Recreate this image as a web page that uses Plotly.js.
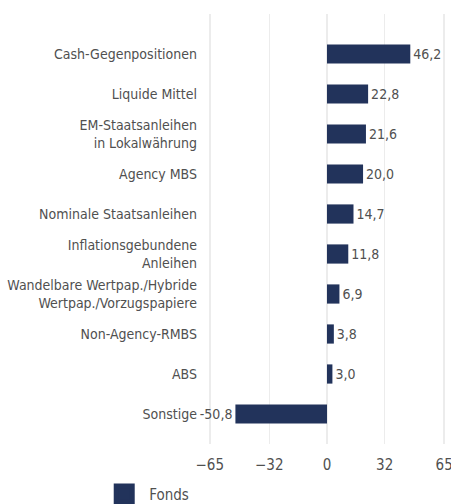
<!DOCTYPE html>
<html>
<head>
<meta charset="utf-8">
<script src="https://cdn.plot.ly/plotly-3.0.1.min.js"></script>
<style>
  html, body { margin: 0; padding: 0; background: #ffffff; }
  #chart { width: 451px; height: 504px; }
</style>
</head>
<body>
<div id="chart"></div>
<script>
const categories = [
  "Cash-Gegenpositionen",
  "Liquide Mittel",
  "EM-Staatsanleihen<br>in Lokalwährung",
  "Agency MBS",
  "Nominale Staatsanleihen",
  "Inflationsgebundene<br>Anleihen",
  "Wandelbare Wertpap./Hybride<br>Wertpap./Vorzugspapiere",
  "Non-Agency-RMBS",
  "ABS",
  "Sonstige"
];
const fondsValues = [46.2, 22.8, 21.6, 20.0, 14.7, 11.8, 6.9, 3.8, 3.0, -50.8];
const seriesName = "Fonds";
const xTickValues = [-65, -32, 0, 32, 65];
const xTickLabels = ["\u221265", "\u221232", "0", "32", "65"];

const FONT = "'DejaVu Sans Condensed', 'Liberation Sans Narrow', sans-serif";
const NAVY = "#22335b";
const TEXT = "#505050";

const labels = fondsValues.map(v => v.toFixed(1).replace(".", ","));

const bars = {
  type: "bar",
  orientation: "h",
  x: fondsValues,
  y: categories,
  name: seriesName,
  showlegend: false,
  marker: { color: NAVY, line: { width: 0 } },
  width: 0.48,
  text: labels,
  textposition: "outside",
  cliponaxis: false,
  textfont: { family: FONT, size: 14, color: TEXT },
  hoverinfo: "x+y"
};

const legendEntry = {
  type: "scatter",
  mode: "markers",
  x: [null],
  y: [null],
  name: seriesName,
  marker: { symbol: "square", size: 16, color: NAVY, line: { color: NAVY, width: 5 } },
  showlegend: true,
  hoverinfo: "skip"
};

const layout = {
  width: 451,
  height: 504,
  margin: { l: 208, r: 5, t: 14, b: 60 },
  paper_bgcolor: "#ffffff",
  plot_bgcolor: "#ffffff",
  font: { family: FONT, size: 14, color: TEXT },
  xaxis: {
    range: [-66, 66],
    tickmode: "array",
    tickvals: xTickValues,
    ticktext: xTickLabels,
    showgrid: true,
    gridcolor: "#ececec",
    gridwidth: 1.5,
    zeroline: false,
    showline: false,
    ticks: "",
    ticklabelstandoff: 10,
    ticklabeloverflow: "allow",
    tickfont: { family: FONT, size: 15, color: TEXT },
    automargin: false,
    fixedrange: true
  },
  yaxis: {
    type: "category",
    categoryorder: "array",
    categoryarray: categories,
    range: [9.75, -1],
    showgrid: false,
    zeroline: false,
    showline: false,
    ticks: "",
    ticklabelstandoff: 10,
    tickfont: { family: FONT, size: 14, color: TEXT },
    automargin: false,
    fixedrange: true
  },
  showlegend: true,
  legend: {
    orientation: "h",
    xref: "container",
    yref: "container",
    x: 0.22,
    xanchor: "left",
    y: 0.052,
    yanchor: "top",
    itemwidth: 40,
    font: { family: FONT, size: 15, color: TEXT },
    bgcolor: "rgba(0,0,0,0)"
  }
};

Plotly.newPlot("chart", [bars, legendEntry], layout, { displayModeBar: false, staticPlot: true });
</script>
</body>
</html>
